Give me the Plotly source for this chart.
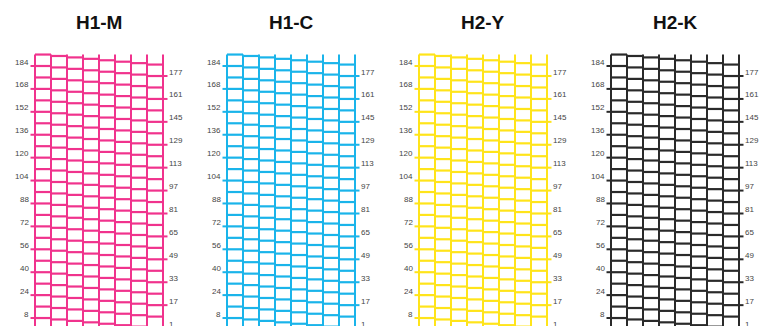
import plotly.graph_objects as go

# Nozzle check pattern, 4 heads
heads = ["H1-M", "H1-C", "H2-Y", "H2-K"]
head_colors = ["#F0338D", "#1AB4EA", "#FFE41A", "#2A2A2A"]
n_nozzles = 192
n_columns = 8
left_labels = [8, 24, 40, 56, 72, 88, 104, 120, 136, 152, 168, 184]
right_labels = [1, 17, 33, 49, 65, 81, 97, 113, 129, 145, 161, 177]

W, H = 759, 326
col_px = 16            # width of one column in pixels
px_per_nozzle = 1.432
x0 = 35 / col_px       # left edge of first panel, in column units
panel_step = 12        # panels are 12 columns apart
y_top = 184 + 66 / px_per_nozzle
y_bot = y_top - H / px_per_nozzle
tick_len = 4.5 / col_px
label_font = dict(size=8, color="#444",
                  family="Liberation Sans Narrow, Arial Narrow, Liberation Sans")


def paper_y(n):
    # nozzle number -> paper fraction (lets labels sit just below the axis range)
    return (n - y_bot) / (y_top - y_bot)


fig = go.Figure()

for p, (name, color) in enumerate(zip(heads, head_colors)):
    left = x0 + p * panel_step
    right = left + n_columns

    # horizontal segments: column j carries nozzles n with n % 8 == (-j) % 8
    hx, hy = [], []
    for j in range(n_columns):
        for n in range(1, n_nozzles + 1):
            if n % n_columns == (-j) % n_columns:
                hx += [left + j, left + j + 1, None]
                hy += [n, n, None]
    fig.add_trace(go.Scatter(x=hx, y=hy, mode="lines",
                             line=dict(color=color, width=2.2),
                             hoverinfo="skip", showlegend=False))

    # vertical column borders
    vx, vy = [], []
    for j in range(n_columns + 1):
        vx += [left + j, left + j, None]
        vy += [-5, n_nozzles, None]
    fig.add_trace(go.Scatter(x=vx, y=vy, mode="lines",
                             line=dict(color=color, width=2),
                             hoverinfo="skip", showlegend=False))

    # ticks
    tx, ty = [], []
    for n in left_labels:
        tx += [left - tick_len, left, None]
        ty += [n, n, None]
    for n in right_labels:
        tx += [right, right + tick_len, None]
        ty += [n, n, None]
    fig.add_trace(go.Scatter(x=tx, y=ty, mode="lines",
                             line=dict(color=color, width=2),
                             hoverinfo="skip", showlegend=False))

    for n in left_labels:
        fig.add_annotation(x=left - tick_len - 0.03, y=paper_y(n), yref="paper",
                           text=str(n), showarrow=False,
                           xanchor="right", yanchor="middle",
                           yshift=4, xshift=1, font=label_font)
    for n in right_labels:
        fig.add_annotation(x=right + tick_len, y=paper_y(n), yref="paper",
                           text=str(n), showarrow=False,
                           xanchor="left", yanchor="middle",
                           yshift=4, xshift=-1, font=label_font)

    fig.add_annotation(x=left + n_columns / 2, y=1 - 22 / H, yref="paper",
                       text="<b>%s</b>" % name, showarrow=False,
                       xanchor="center", yanchor="middle",
                       font=dict(size=19, color="#111",
                                 family="Liberation Sans, Arial, sans-serif"))

fig.update_layout(
    width=W, height=H,
    margin=dict(l=0, r=0, t=0, b=0),
    plot_bgcolor="white", paper_bgcolor="white",
    xaxis=dict(range=[0, W / col_px], visible=False, fixedrange=True),
    yaxis=dict(range=[y_bot, y_top], visible=False, fixedrange=True),
)

fig.write_html("out.html", default_width="759px", default_height="326px",
               config={"displayModeBar": False},
               post_script="document.body.style.margin='0';")
